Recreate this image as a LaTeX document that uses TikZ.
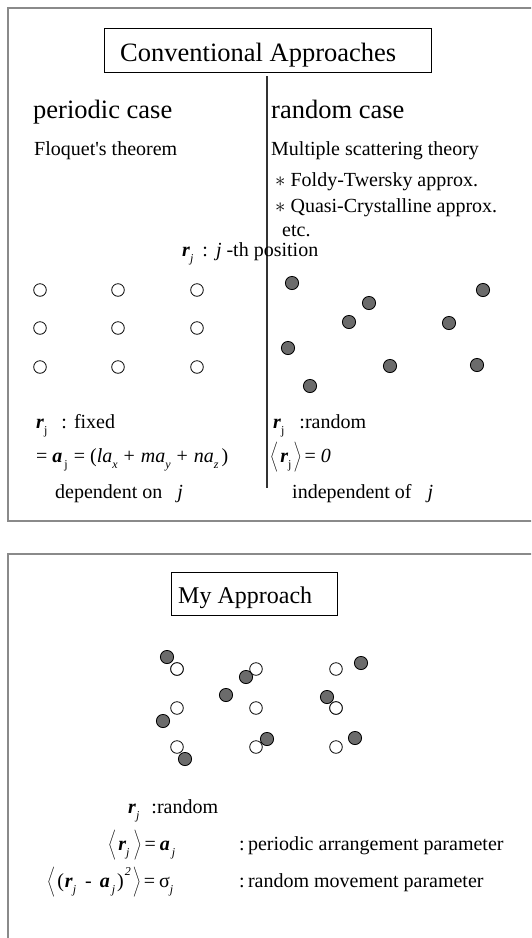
\documentclass[tikz,border=0pt]{standalone}
\usepackage{fontspec}
\setmainfont{Liberation Serif}
\newcommand{\bv}[1]{\textbf{\textit{#1}}}
\newcommand{\subx}[1]{\raisebox{-0.3em}{\fontsize{12}{12}\selectfont #1}}
\newcommand{\supx}[1]{\raisebox{0.6em}{\fontsize{12}{12}\selectfont #1}}
\newcommand{\ang}[1]{$\left\langle\vphantom{\rule[-8pt]{0pt}{23pt}}\hspace{2pt}\mbox{#1}\hspace{2pt}\right\rangle$}
\newcommand{\hs}[1]{\hspace*{#1pt}}
\definecolor{framegray}{HTML}{8A8A8A}
\definecolor{dotgray}{HTML}{6B6B6B}
\definecolor{divline}{HTML}{333333}
\begin{document}
\begin{tikzpicture}[x=1pt,y=-1pt,
  txt/.style={anchor=base west, inner sep=0pt, font=\fontsize{20}{24}\selectfont},
  bigtxt/.style={anchor=base west, inner sep=0pt, font=\fontsize{26.5}{30}\selectfont},
  midtxt/.style={anchor=base west, inner sep=0pt, font=\fontsize{24}{28}\selectfont},
  framebox/.style={draw=black, line width=0.8pt, anchor=north west, inner sep=0pt},
  opendot/.style={circle, draw=black, fill=white, line width=0.8pt, minimum size=12.6pt, inner sep=0pt},
  fulldot/.style={circle, draw=black, fill=dotgray, line width=0.8pt, minimum size=13.2pt, inner sep=0pt},
  frameline/.style={draw=framegray, line width=2pt}
]
\useasboundingbox (0,0) rectangle (531,938);
\clip (0,0) rectangle (531,938);
\fill[white] (0,0) rectangle (531,938);

% frames
\coordinate (f1a) at (540,8);
\coordinate (f1b) at (8,8);
\coordinate (f1c) at (8,521);
\coordinate (f1d) at (540,521);
\draw[frameline] (f1a) -- (f1b) -- (f1c) -- (f1d);
\coordinate (f2a) at (540,554);
\coordinate (f2b) at (8,554);
\coordinate (f2c) at (8,945);
\draw[frameline] (f2a) -- (f2b) -- (f2c);

% title
\node[framebox, minimum width=327pt, minimum height=44pt] (titlebox) at (104,28) {};
\node[bigtxt] (title) at (120,61) {Conventional Approaches};

% divider
\coordinate (vtop) at (267,76);
\coordinate (vbot) at (267,488);
\draw[divline, line width=1.3pt] (vtop) -- (vbot);

% headings
\node[bigtxt] (periodic) at (33,118) {periodic case};
\node[bigtxt] (random) at (271,118) {random case};
\node[txt] (floquet) at (34,155) {Floquet\textquotesingle s theorem};
\node[txt] (mst) at (271,155) {Multiple scattering theory};
\node[txt] (foldy) at (275,186) {$\ast$ Foldy-Twersky approx.};
\node[txt] (quasi) at (275,212) {$\ast$ Quasi-Crystalline approx.};
\node[txt] (etc) at (282,236) {etc.};
\node[txt] (rjpos) at (182,256) {\bv{r}\subx{\textit{j}}\hs{9}:\hs{8}\textit{j}\hs{5}-th position};

% periodic lattice
\foreach \i/\x in {1/40,2/118,3/197}{
  \foreach \j/\y in {1/290,2/328,3/367}{
    \node[opendot] (p\i\j) at (\x,\y) {};
  }
}
% random points
\node[fulldot] (q1) at (292,283) {};
\node[fulldot] (q2) at (483,290) {};
\node[fulldot] (q3) at (369,303) {};
\node[fulldot] (q4) at (349,322) {};
\node[fulldot] (q5) at (449,323) {};
\node[fulldot] (q6) at (288,348) {};
\node[fulldot] (q7) at (390,366) {};
\node[fulldot] (q8) at (477,365) {};
\node[fulldot] (q9) at (310,386) {};

% periodic formulas
\node[txt] (fixed) at (36,428) {\bv{r}\subx{j}\hs{14}:\hs{7}fixed};
\node[txt] (aj) at (36,462) {=\hs{5}\bv{a}\hs{2}\subx{j}\hs{6}=\hs{5}(\textit{la}\subx{\textit{x}}\hs{6}+\hs{6}\textit{ma}\subx{\textit{y}}\hs{6}+\hs{6}\textit{na}\subx{\textit{z}}\hs{3})};
\node[txt] (dep) at (55,498) {dependent on\hs{15}\textit{j}};

% random formulas
\node[txt] (rrand) at (273,428) {\bv{r}\subx{j}\hs{15}:random};
\node[txt] (mean0) at (270,462) {\ang{\bv{r}\subx{j}}\hs{3}=\hs{5}\textit{0}};
\node[txt] (indep) at (292,498) {independent of\hs{16}\textit{j}};

% my approach
\node[framebox, minimum width=166pt, minimum height=43pt] (mybox) at (171,572) {};
\node[midtxt] (mytitle) at (178,603) {My Approach};

\foreach \i/\x in {1/177,2/256,3/336}{
  \foreach \j/\y in {1/669,2/708,3/747}{
    \node[opendot] (m\i\j) at (\x,\y) {};
  }
}
\node[fulldot] (n1) at (167,657) {};
\node[opendot] (m11b) at (177,669) {};
\node[fulldot] (n2) at (246,677) {};
\node[fulldot] (n3) at (361,663) {};
\node[fulldot] (n4) at (226,695) {};
\node[fulldot] (n5) at (327,697) {};
\node[opendot] (m32b) at (336,708) {};
\node[fulldot] (n6) at (163,721) {};
\node[fulldot] (n7) at (267,739) {};
\node[fulldot] (n8) at (355,738) {};
\node[fulldot] (n9) at (185,759) {};

\node[txt] (brand) at (128,813) {\bv{r}\subx{\textit{j}}\hs{12}:random};
\node[txt] (bmean) at (108,850) {\ang{\bv{r}\subx{\textit{j}}\hs{2}}\hs{3}=\hs{4}\bv{a}\hs{2}\subx{\textit{j}}};
\node[txt] (bper) at (239,850) {:\,periodic arrangement parameter};
\node[txt] (bvar) at (47,887) {\ang{(\hs{1}\bv{r}\subx{\textit{j}}\hs{9}-\hs{8}\bv{a}\hs{2}\subx{\textit{j}}\hs{2})\hs{1}\supx{\textit{2}}}\hs{3}=\hs{4}σ\subx{\textit{j}}};
\node[txt] (bmov) at (239,887) {:\,random movement parameter};
\end{tikzpicture}
\end{document}
